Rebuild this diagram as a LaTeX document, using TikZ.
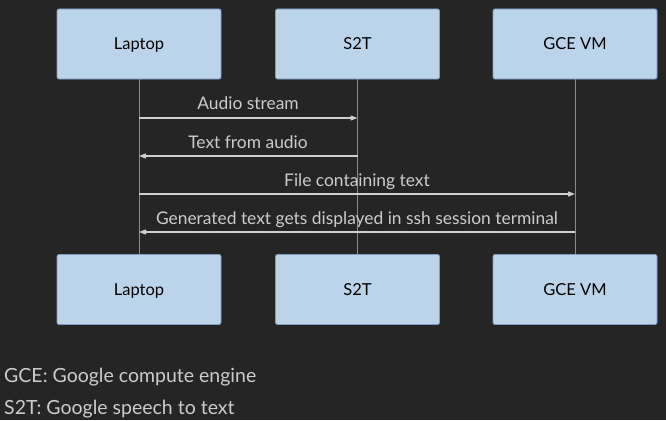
\documentclass[tikz,border=0pt]{standalone}
\usepackage{fontspec}
\setmainfont{Lato}
\usetikzlibrary{arrows.meta}
\definecolor{bg}{HTML}{252525}
\definecolor{boxfill}{HTML}{BCD4EA}
\definecolor{boxdraw}{HTML}{7F9CC0}
\definecolor{txt}{HTML}{CCCCCC}
\definecolor{life}{HTML}{8A8A8A}
\definecolor{msg}{HTML}{CFCFCF}
\tikzset{
  actor/.style={draw=boxdraw, fill=boxfill, rounded corners=2pt, minimum width=164pt, minimum height=70pt, inner sep=0pt, font=\fontsize{16.5}{19}\selectfont, text=black, line width=0.8pt, text height=11.8pt, text depth=0pt},
  lifeline/.style={draw=life, line width=0.6pt},
  message/.style={draw=msg, line width=1.2pt, -{Triangle[length=7pt,width=5pt]}},
  msglabel/.style={text=txt, font=\fontsize{17.4}{20}\selectfont, inner sep=0pt, anchor=base},
  legend/.style={text=txt, font=\fontsize{19.5}{22}\selectfont, inner sep=0pt, anchor=base west}
}
\begin{document}
\begin{tikzpicture}[x=1pt,y=-1pt]
\fill[bg] (0,0) rectangle (666,420);
\useasboundingbox (0,0) rectangle (666,420);
\node[actor] (lt) at (139,44) {Laptop};
\node[actor] (st) at (357.5,44) {S2T};
\node[actor] (gt) at (575,44) {GCE VM};
\node[actor] (lb) at (139,289.5) {Laptop};
\node[actor] (sb) at (357.5,289.5) {S2T};
\node[actor] (gb) at (575,289.5) {GCE VM};
\draw[lifeline] (lt.south) -- (lb.north);
\draw[lifeline] (st.south) -- (sb.north);
\draw[lifeline] (gt.south) -- (gb.north);
\coordinate (a1) at (139,118); \coordinate (b1) at (357.5,118);
\coordinate (a2) at (357.5,156); \coordinate (b2) at (139,156);
\coordinate (a3) at (139,194); \coordinate (b3) at (575,194);
\coordinate (a4) at (575,232); \coordinate (b4) at (139,232);
\draw[message] (a1) -- (b1);
\draw[message] (a2) -- (b2);
\draw[message] (a3) -- (b3);
\draw[message] (a4) -- (b4);
\node[msglabel] (m1) at (248,109) {Audio stream};
\node[msglabel] (m2) at (248,148) {Text from audio};
\node[msglabel] (m3) at (357,186) {File containing text};
\node[msglabel] (m4) at (357,224) {Generated text gets displayed in ssh session terminal};
\node[legend] (g1) at (4,382) {GCE: Google compute engine};
\node[legend] (g2) at (4,414) {S2T: Google speech to text};
\end{tikzpicture}
\end{document}
